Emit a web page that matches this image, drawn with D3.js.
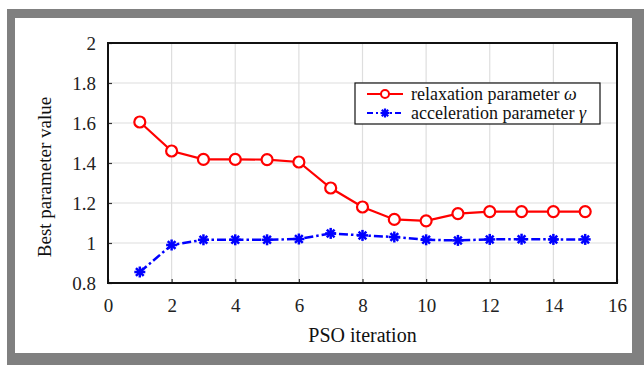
<!DOCTYPE html>
<html>
<head>
<meta charset="utf-8">
<script src="https://cdn.jsdelivr.net/npm/d3@7"></script>
<style>
  body { margin: 0; background: #fff; }
  svg { display: block; font-family: "Liberation Serif", "DejaVu Serif", serif; }
</style>
</head>
<body>
<div id="chart"></div>
<script>
// data
var iterations = [1, 2, 3, 4, 5, 6, 7, 8, 9, 10, 11, 12, 13, 14, 15];
var omegaValues = [1.605, 1.46, 1.418, 1.418, 1.417, 1.405, 1.275, 1.18, 1.118, 1.111, 1.147, 1.157, 1.157, 1.157, 1.157];
var gammaValues = [0.855, 0.99, 1.016, 1.016, 1.016, 1.02, 1.048, 1.038, 1.03, 1.016, 1.013, 1.018, 1.019, 1.018, 1.018];
var xTicks = [0, 2, 4, 6, 8, 10, 12, 14, 16];
var yTicks = [0.8, 1, 1.2, 1.4, 1.6, 1.8, 2];
var seriesNames = ["relaxation parameter ", "acceleration parameter "];
var seriesSymbols = ["\u03C9", "\u03B3"];

var W = 644, H = 365;
var margin = {top: 43, right: 27, bottom: 82, left: 108},
    width = 617 - margin.left,
    height = 283 - margin.top;

var svg = d3.select("#chart").append("svg")
    .attr("width", W)
    .attr("height", H);

// grey frame
svg.append("rect").attr("x", 7).attr("y", 9).attr("width", W - 7).attr("height", H - 9).attr("fill", "#808080");
svg.append("rect").attr("x", 15).attr("y", 18).attr("width", 617).attr("height", 335).attr("fill", "#fff");

var g = svg.append("g")
    .attr("transform", "translate(" + margin.left + "," + margin.top + ")");

var x = d3.scaleLinear().domain([0, 16]).range([0, width]);
var y = d3.scaleLinear().domain([0.8, 2]).range([height, 0]);

// grid
g.append("g").selectAll("line").data(xTicks.slice(1, -1)).enter().append("line")
    .attr("x1", function (d) { return x(d); }).attr("x2", function (d) { return x(d); })
    .attr("y1", 0).attr("y2", height)
    .attr("stroke", "#dedede").attr("stroke-width", 1.2);
g.append("g").selectAll("line").data(yTicks.slice(1, -1)).enter().append("line")
    .attr("y1", function (d) { return y(d); }).attr("y2", function (d) { return y(d); })
    .attr("x1", 0).attr("x2", width)
    .attr("stroke", "#dedede").attr("stroke-width", 1.2);

// axes
var xAxis = g.append("g")
    .attr("transform", "translate(0," + height + ")")
    .call(d3.axisBottom(x).tickValues(xTicks).tickSize(-4).tickPadding(11).tickFormat(d3.format("d")));
var yAxis = g.append("g")
    .call(d3.axisLeft(y).tickValues(yTicks).tickSize(-4).tickPadding(12).tickFormat(function (d) { return +d.toFixed(1) + ""; }));
[xAxis, yAxis].forEach(function (a) {
    a.select(".domain").remove();
    a.selectAll(".tick line").attr("stroke", "#333").attr("stroke-width", 1.2);
    a.selectAll(".tick text").attr("fill", "#222").style("font-size", "19px").style("font-family", "Liberation Serif, serif");
});
xAxis.selectAll(".tick text").attr("dy", "0.95em");

// box
g.append("rect").attr("width", width).attr("height", height)
    .attr("fill", "none").attr("stroke", "#111").attr("stroke-width", 2);

// titles
svg.append("text")
    .attr("x", margin.left + width / 2).attr("y", 342)
    .attr("text-anchor", "middle").attr("fill", "#111")
    .style("font-size", "20px")
    .text("PSO iteration");
svg.append("text")
    .attr("transform", "translate(51,177)rotate(-90)")
    .attr("text-anchor", "middle").attr("fill", "#111")
    .style("font-size", "19px")
    .text("Best parameter value");

var line = d3.line()
    .x(function (d) { return x(d[0]); })
    .y(function (d) { return y(d[1]); });

var omegaData = iterations.map(function (d, i) { return [d, omegaValues[i]]; });
var gammaData = iterations.map(function (d, i) { return [d, gammaValues[i]]; });

function star(sel, r) {
    // asterisk marker
    [0, 45, 90, 135].forEach(function (a) {
        var rad = a * Math.PI / 180;
        sel.append("line")
            .attr("x1", -r * Math.cos(rad)).attr("y1", -r * Math.sin(rad))
            .attr("x2", r * Math.cos(rad)).attr("y2", r * Math.sin(rad));
    });
}

// gamma line
g.append("path").datum(gammaData).attr("d", line)
    .attr("fill", "none").attr("stroke", "#0000ff").attr("stroke-width", 2.5)
    .attr("stroke-dasharray", "9,3,2.5,3");
g.append("g").selectAll("g").data(gammaData).enter().append("g")
    .attr("transform", function (d) { return "translate(" + x(d[0]) + "," + y(d[1]) + ")"; })
    .attr("stroke", "#0000ff").attr("stroke-width", 2.5)
    .each(function () { star(d3.select(this), 5.5); });

// omega line
g.append("path").datum(omegaData).attr("d", line)
    .attr("fill", "none").attr("stroke", "#ff0000").attr("stroke-width", 2.2);
g.append("g").selectAll("circle").data(omegaData).enter().append("circle")
    .attr("cx", function (d) { return x(d[0]); })
    .attr("cy", function (d) { return y(d[1]); })
    .attr("r", 5.5)
    .attr("fill", "#fff").attr("stroke", "#ff0000").attr("stroke-width", 2.2);

// legend
var legend = svg.append("g").attr("transform", "translate(355,83)");
legend.append("rect").attr("width", 245).attr("height", 41)
    .attr("fill", "#fff").attr("stroke", "#111").attr("stroke-width", 1.2);
var rowY = [11, 30];
var colors = ["#ff0000", "#0000ff"];
seriesNames.forEach(function (name, i) {
    var row = legend.append("g").attr("transform", "translate(0," + rowY[i] + ")");
    row.append("line").attr("x1", 12).attr("x2", 48)
        .attr("stroke", colors[i]).attr("stroke-width", 2.2)
        .attr("stroke-dasharray", i === 1 ? "6,3,2,3" : null);
    if (i === 0) {
        row.append("circle").attr("cx", 30).attr("r", 4)
            .attr("fill", "#fff").attr("stroke", colors[i]).attr("stroke-width", 2);
    } else {
        var s = row.append("g").attr("transform", "translate(30,0)")
            .attr("stroke", colors[i]).attr("stroke-width", 2.2);
        star(s, 4.5);
    }
    var t = row.append("text").attr("x", 56).attr("y", 6)
        .attr("fill", "#111").style("font-size", "18px")
        .text(name);
    t.append("tspan").style("font-style", "italic").text(seriesSymbols[i]);
});
</script>
</body>
</html>
